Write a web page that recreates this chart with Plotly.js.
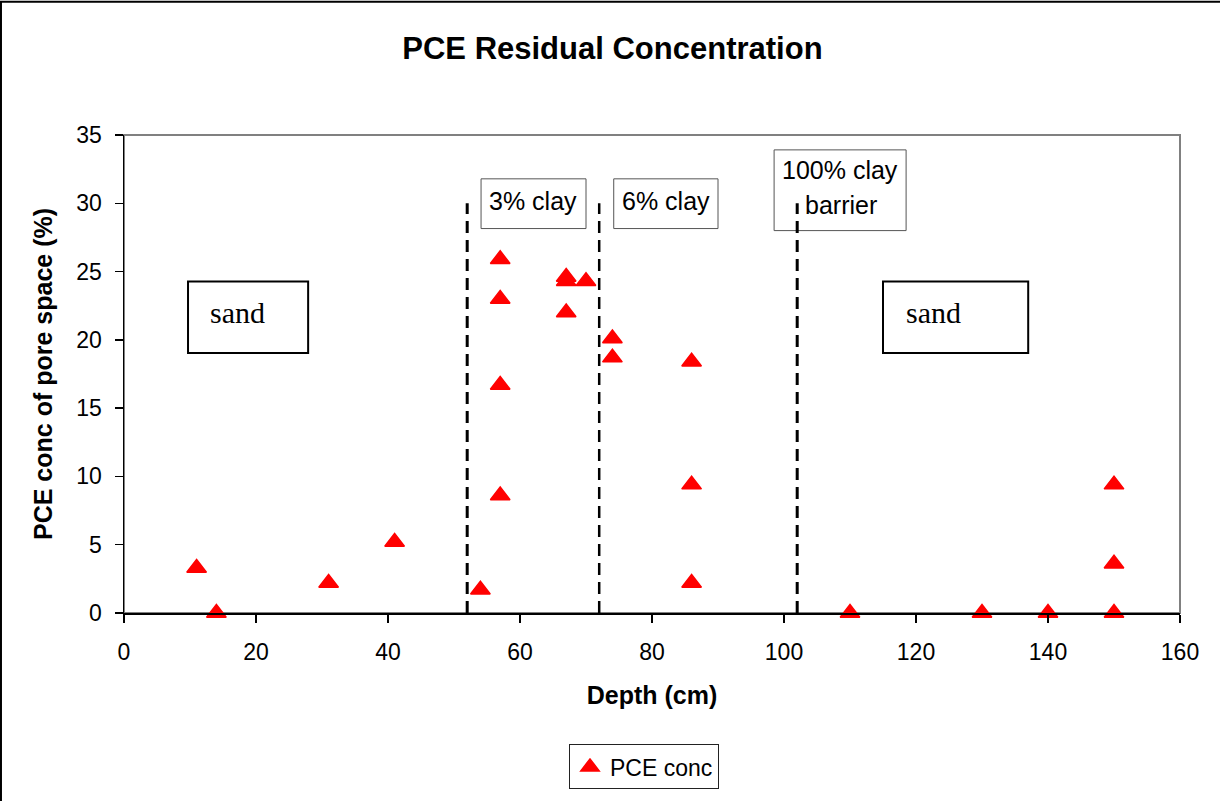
<!DOCTYPE html>
<html>
<head>
<meta charset="utf-8">
<script src="https://cdn.plot.ly/plotly-3.0.1.min.js"></script>
<style>
  html, body { margin: 0; padding: 0; background: #ffffff; }
  #chart { width: 1220px; height: 801px; }
</style>
</head>
<body>
<div id="chart"></div>
<script>
// Sample depth (cm) and PCE residual concentration (% of pore space)
const depth = [11, 14, 31, 41, 54, 57, 57, 57, 57, 67, 67, 67, 70, 74, 74, 86, 86, 86, 110, 130, 140, 150, 150, 150];
const conc  = [3.3, 0, 2.2, 5.2, 1.7, 25.9, 23.0, 16.7, 8.6, 24.6, 24.3, 22.0, 24.3, 20.1, 18.7, 18.4, 9.4, 2.2, 0, 0, 0, 0, 3.6, 9.4];

// Layer boundaries (depth, cm) and how high the boundary markers reach
const layerBounds = [52, 72, 102];
const boundTop = 30;
const boundWidths = [3, 2.5, 3];

const seriesName = 'PCE conc';
const xTicks = [0, 20, 40, 60, 80, 100, 120, 140, 160];
const yTicks = [0, 5, 10, 15, 20, 25, 30, 35];

const sans = 'Liberation Sans, Arial, sans-serif';
const serif = 'Liberation Serif, Times New Roman, serif';

const trace = {
  x: depth,
  y: conc,
  type: 'scatter',
  mode: 'markers',
  name: seriesName,
  cliponaxis: false,
  marker: { symbol: 'triangle-up', size: 17, color: '#ff0000', line: { color: '#ff0000', width: 1.5 } }
};

// Labelled boxes for the soil layers
const boxes = [
  { x0: 9.7,   x1: 27.9,   y0: 19.03, y1: 24.28, color: '#000000', width: 2 },
  { x0: 115.0, x1: 137.0,  y0: 19.03, y1: 24.28, color: '#000000', width: 2 },
  { x0: 54.1,  x1: 70.0,   y0: 28.15, y1: 31.79, color: '#555555', width: 1 },
  { x0: 74.2,  x1: 90.0,   y0: 28.15, y1: 31.79, color: '#555555', width: 1 },
  { x0: 98.5,  x1: 118.5,  y0: 28.0,  y1: 33.91, color: '#555555', width: 1 }
];

const shapes = [];
// outer chart frame
shapes.push({ type: 'rect', xref: 'paper', yref: 'paper', x0: -0.1165, x1: 1.05, y0: -0.40, y1: 1.279,
  line: { color: '#000000', width: 2 }, fillcolor: 'rgba(0,0,0,0)', layer: 'below' });
// plot area frame (top / right edges grey)
shapes.push({ type: 'rect', xref: 'paper', yref: 'paper', x0: 0, x1: 1, y0: 0, y1: 1,
  line: { color: '#808080', width: 2 }, fillcolor: 'rgba(0,0,0,0)', layer: 'below' });
boxes.forEach(b => shapes.push({
  type: 'rect', xref: 'x', yref: 'y', x0: b.x0, x1: b.x1, y0: b.y0, y1: b.y1,
  line: { color: b.color, width: b.width }, fillcolor: '#ffffff', layer: 'above'
}));
layerBounds.forEach((d, i) => shapes.push({
  type: 'line', xref: 'x', yref: 'y', x0: d, x1: d, y0: 0, y1: boundTop,
  line: { color: '#000000', width: boundWidths[i], dash: '12px,7px' }, layer: 'above'
}));

const boxText = (text, x, y, family, size) => ({
  text: text, x: x, y: y, xref: 'x', yref: 'y', showarrow: false,
  xanchor: 'center', yanchor: 'middle', font: { family: family, size: size, color: '#000000' }
});

const annotations = [
  boxText('sand', 17.2, 22.0, serif, 30),
  boxText('sand', 122.6, 22.0, serif, 30),
  boxText('3% clay', 62.0, 30.15, sans, 25),
  boxText('6% clay', 82.1, 30.15, sans, 25),
  boxText('100% clay', 108.5, 32.45, sans, 25),
  boxText('barrier', 108.6, 29.9, sans, 25)
];

const layout = {
  width: 1220,
  height: 801,
  margin: { l: 124, r: 40, t: 135, b: 186 },
  paper_bgcolor: '#ffffff',
  plot_bgcolor: '#ffffff',
  showlegend: true,
  title: {
    text: '<b>PCE Residual Concentration</b>',
    x: 0.502, xanchor: 'center', y: 0.94, yanchor: 'middle',
    font: { family: sans, size: 31, color: '#000000' }
  },
  xaxis: {
    range: [0, 160],
    tickvals: xTicks,
    automargin: false,
    ticks: 'outside', ticklen: 8, tickwidth: 1.5, tickcolor: '#000000',
    showline: true, linecolor: '#000000', linewidth: 1.5,
    showgrid: false, zeroline: false,
    tickfont: { family: sans, size: 23, color: '#000000' },
    ticklabelstandoff: 10,
    title: { text: '<b>Depth (cm)</b>', standoff: 22, font: { family: sans, size: 25, color: '#000000' } }
  },
  yaxis: {
    range: [0, 35],
    tickvals: yTicks,
    automargin: false,
    ticks: 'outside', ticklen: 8, tickwidth: 1.5, tickcolor: '#000000',
    showline: true, linecolor: '#000000', linewidth: 1.5,
    showgrid: false, zeroline: false,
    tickfont: { family: sans, size: 23, color: '#000000' },
    ticklabelstandoff: 8,
    title: { text: '<b>PCE conc of pore space (%)</b>', standoff: 16, font: { family: sans, size: 25, color: '#000000' } }
  },
  legend: {
    x: 0.4214, xanchor: 'left', y: -0.275, yanchor: 'top',
    bgcolor: '#ffffff', bordercolor: '#222222', borderwidth: 1,
    font: { family: sans, size: 23, color: '#000000' }
  },
  shapes: shapes,
  annotations: annotations
};

Plotly.newPlot('chart', [trace], layout, { displayModeBar: false, staticPlot: true });
</script>
</body>
</html>
